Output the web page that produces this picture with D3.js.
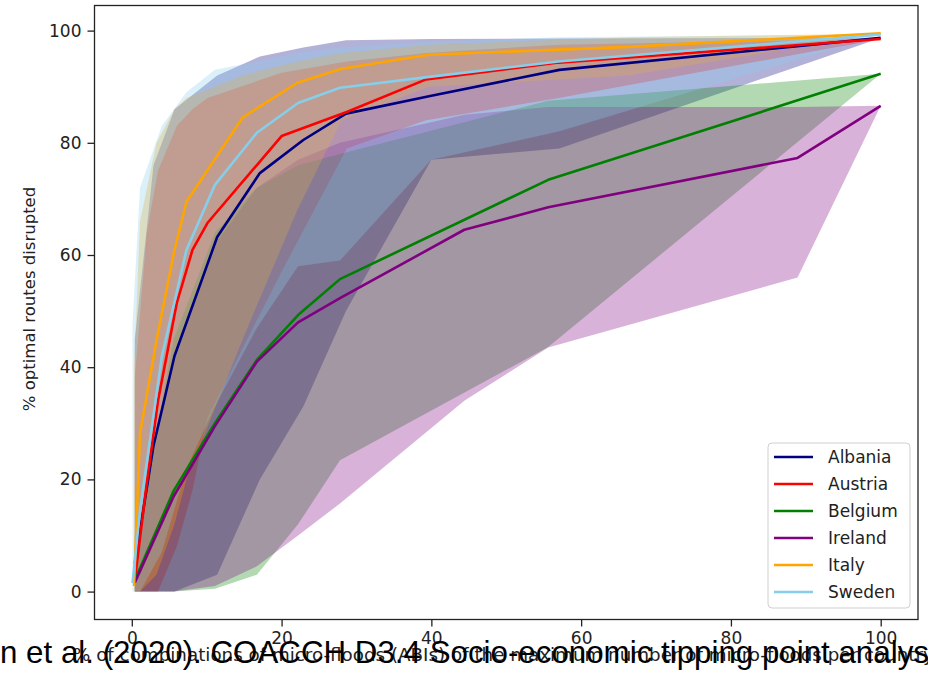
<!DOCTYPE html>
<html>
<head>
<meta charset="utf-8">
<script src="https://cdn.jsdelivr.net/npm/d3@7"></script>
<style>
  html, body { margin: 0; padding: 0; background: #fff; overflow: hidden; }
  svg { display: block; }
</style>
</head>
<body>
<svg id="chart" width="928" height="677"></svg>
<script>
// Share of optimal routes disrupted vs. share of micro-flood combinations
const countries = ["Albania", "Austria", "Belgium", "Ireland", "Italy", "Sweden"];
const colors = ["#000080", "#ff0000", "#008000", "#800080", "#ffa500", "#87ceeb"];

const albaniaX    = [0.4, 2.9, 5.7, 11.4, 17.1, 22.9, 28.6, 40, 57.1, 100];
const albaniaMid  = [5, 26, 42, 63.2, 74.6, 80.5, 85.2, 88.4, 93, 98.7];
const albaniaLow  = [0, 0, 0, 3, 20, 33, 50, 77, 79, 98.7];
const albaniaHigh = [45, 76, 86, 92, 95.4, 97, 98.3, 98.5, 98.6, 98.7];

const austriaX    = [0.4, 2, 3.5, 6, 8.1, 10.1, 20, 28.7, 39.3, 57, 100];
const austriaMid  = [2, 19.3, 34, 51.4, 60.9, 65.7, 81.2, 85.5, 91.3, 94.3, 98.5];
const austriaLow  = [0, 0, 0, 8, 18, 31, 57, 79, 84, 88, 98.5];
const austriaHigh = [38, 64, 75, 83, 86, 88, 92.5, 94.5, 96, 97.5, 98.5];

const belgiumX    = [0.4, 5.6, 11.1, 16.7, 22.2, 27.8, 55.6, 100];
const belgiumMid  = [2, 18, 30, 41.3, 49.3, 55.7, 73.4, 92.3];
const belgiumLow  = [0, 0, 0.5, 3, 12, 23.4, 43.6, 92.3];
const belgiumHigh = [8, 45, 64, 72, 76, 78, 87.5, 92.3];

const irelandX    = [0.4, 5.6, 11.1, 16.7, 22.2, 27.8, 44.4, 55.6, 88.9, 100];
const irelandMid  = [1.6, 17, 29.5, 41, 48, 52.3, 64.5, 68.5, 77.3, 86.6];
const irelandLow  = [0, 0, 1, 4.5, 10, 15.7, 34, 43.5, 56, 86.6];
const irelandHigh = [8, 42, 62, 72, 77, 80, 85, 86.4, 86.4, 86.6];

const italyX    = [0.3, 1.1, 3.3, 5.7, 7.3, 14.8, 22.1, 28, 39.7, 66.4, 100];
const italyMid  = [1, 28.2, 44.8, 60.9, 69.5, 84.5, 90.7, 93.2, 95.7, 97.1, 99.5];
const italyLow  = [0, 0, 3, 12, 20, 45, 68, 84, 90, 92, 99.5];
const italyHigh = [40, 66, 80, 86, 88, 92, 94.5, 96, 97.5, 98.8, 99.5];

const swedenX    = [0.1, 1.1, 4, 7.3, 11.1, 16.7, 22.2, 27.8, 40, 57, 100];
const swedenMid  = [1.5, 14.5, 41.8, 60.9, 72.5, 81.8, 87.1, 89.8, 91.8, 94.5, 99.3];
const swedenLow  = [0, 0, 7, 22, 33, 47, 58, 59, 77, 82, 99.3];
const swedenHigh = [48, 72, 83, 89, 93, 94.5, 96, 97, 98, 98.8, 99.3];

const xTicks = [0, 20, 40, 60, 80, 100];
const yTicks = [0, 20, 40, 60, 80, 100];

const seriesX    = [albaniaX, austriaX, belgiumX, irelandX, italyX, swedenX];
const seriesMid  = [albaniaMid, austriaMid, belgiumMid, irelandMid, italyMid, swedenMid];
const seriesLow  = [albaniaLow, austriaLow, belgiumLow, irelandLow, italyLow, swedenLow];
const seriesHigh = [albaniaHigh, austriaHigh, belgiumHigh, irelandHigh, italyHigh, swedenHigh];

const series = countries.map((name, i) => ({
  name,
  color: colors[i],
  points: seriesX[i].map((x, j) => ({
    x, mid: seriesMid[i][j], low: seriesLow[i][j], high: seriesHigh[i][j]
  }))
}));

const plot = { left: 94.5, right: 918, top: 5.5, bottom: 619.5 };

const x = d3.scaleLinear().domain([-4.98, 104.98]).range([plot.left, plot.right]);
const y = d3.scaleLinear().domain([-4.975, 104.475]).range([plot.bottom, plot.top]);

const svg = d3.select("#chart");
const font = "'DejaVu Sans', sans-serif";

svg.append("defs").append("clipPath").attr("id", "plotclip")
  .append("rect")
  .attr("x", plot.left).attr("y", plot.top)
  .attr("width", plot.right - plot.left).attr("height", plot.bottom - plot.top);

const area = d3.area()
  .x(d => x(d.x)).y0(d => y(d.low)).y1(d => y(d.high));
const line = d3.line()
  .x(d => x(d.x)).y(d => y(d.mid));

const g = svg.append("g").attr("clip-path", "url(#plotclip)");

// uncertainty bands
g.selectAll("path.band")
  .data(series)
  .join("path")
  .attr("class", "band")
  .attr("d", d => area(d.points))
  .attr("fill", d => d.color)
  .attr("fill-opacity", 0.3)
  .attr("stroke", "none");

// median lines
g.selectAll("path.median")
  .data(series)
  .join("path")
  .attr("class", "median")
  .attr("d", d => line(d.points))
  .attr("fill", "none")
  .attr("stroke", d => d.color)
  .attr("stroke-width", 2.6)
  .attr("stroke-linejoin", "round");

// axes
const xAxis = d3.axisBottom(x).tickValues(xTicks).tickSize(7).tickPadding(5).tickSizeOuter(0);
const yAxis = d3.axisLeft(y).tickValues(yTicks).tickSize(7).tickPadding(6).tickSizeOuter(0);

const gx = svg.append("g").attr("transform", `translate(0,${plot.bottom})`).call(xAxis);
const gy = svg.append("g").attr("transform", `translate(${plot.left},0)`).call(yAxis);
[gx, gy].forEach(a => {
  a.select(".domain").remove();
  a.selectAll(".tick line").attr("stroke", "#222").attr("stroke-width", 1.3);
  a.selectAll(".tick text").attr("fill", "#222").style("font-family", font).style("font-size", "17px");
});

// frame
svg.append("rect")
  .attr("x", plot.left).attr("y", plot.top)
  .attr("width", plot.right - plot.left).attr("height", plot.bottom - plot.top)
  .attr("fill", "none").attr("stroke", "#222").attr("stroke-width", 1.3);

// axis titles
svg.append("text")
  .attr("transform", "translate(35,299) rotate(-90)")
  .attr("text-anchor", "middle")
  .attr("fill", "#222")
  .style("font-family", font).style("font-size", "16.5px")
  .text("% optimal routes disrupted");

svg.append("text")
  .attr("x", 73).attr("y", 661)
  .attr("fill", "#222")
  .style("font-family", font).style("font-size", "18.3px")
  .text("% of combinations of micro-floods (ABIs) of the maximum number of micro-floods per country");

// legend
const legend = svg.append("g");
legend.append("rect")
  .attr("x", 768).attr("y", 443).attr("width", 142).attr("height", 165)
  .attr("rx", 4).attr("fill", "#fff").attr("fill-opacity", 0.8)
  .attr("stroke", "#d0d0d0").attr("stroke-width", 1);
const rowY = d3.scalePoint().domain(countries).range([457, 592]);
const items = legend.selectAll("g.item").data(series).join("g").attr("class", "item")
  .attr("transform", d => `translate(0,${rowY(d.name)})`);
items.append("line")
  .attr("x1", 774).attr("x2", 813)
  .attr("stroke", d => d.color).attr("stroke-width", 2.6);
items.append("text")
  .attr("x", 828).attr("y", 6)
  .attr("fill", "#222")
  .style("font-family", font).style("font-size", "17px")
  .text(d => d.name);

// source note
svg.append("text")
  .attr("x", 0).attr("y", 663)
  .attr("fill", "#000")
  .style("font-family", "'Liberation Sans', Arial, sans-serif").style("font-size", "31.3px")
  .text("n et al. (2020). COACCH D3.4 Socio-economic tipping point analysis");
</script>
</body>
</html>
